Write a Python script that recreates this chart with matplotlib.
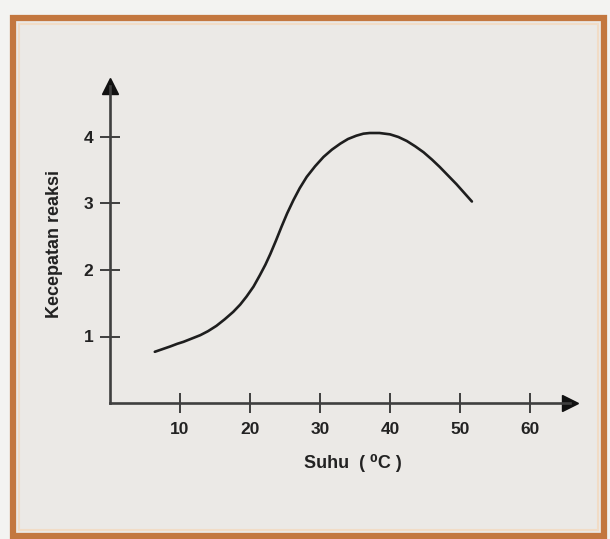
import matplotlib
matplotlib.use('Agg')
import matplotlib.pyplot as plt
from matplotlib.patches import Rectangle

# curve
suhu = [6.4, 7.5, 8.6, 9.6, 10.5, 11.7, 12.9, 14.0, 15.2, 16.4, 17.6, 18.6,
        19.5, 20.5, 21.4, 22.2, 22.9, 23.7, 24.5, 25.3, 26.2, 27.1, 28.1, 29.3,
        30.5, 31.7, 32.9, 34.0, 35.2, 36.2, 37.1, 38.5, 40.0, 41.2, 42.4, 43.6,
        44.8, 46.0, 47.1, 48.3, 49.5, 50.6, 51.7]
kecepatan = [0.77, 0.81, 0.85, 0.89, 0.92, 0.97, 1.02, 1.08, 1.16, 1.26, 1.37, 1.48,
             1.60, 1.75, 1.92, 2.08, 2.24, 2.44, 2.65, 2.85, 3.05, 3.23, 3.40, 3.56,
             3.70, 3.81, 3.90, 3.97, 4.02, 4.05, 4.06, 4.06, 4.04, 4.00, 3.94, 3.86,
             3.77, 3.66, 3.55, 3.42, 3.29, 3.16, 3.03]
xticks = [10, 20, 30, 40, 50, 60]
yticks = [1, 2, 3, 4]

W, H = 610, 539
fig = plt.figure(figsize=(W / 100, H / 100), dpi=100)
fig.patch.set_facecolor('#f3f3f1')

# orange frame, kept behind the axes
fig.patches.append(Rectangle((13 / W, 3 / H), 591 / W, 518 / H, transform=fig.transFigure,
                             facecolor='#ebe9e6', edgecolor='#c3773f', linewidth=4.5, zorder=-2))
fig.patches.append(Rectangle((19 / W, 9 / H), 579 / W, 506 / H, transform=fig.transFigure,
                             facecolor='none', edgecolor='#f1dcc6', linewidth=1.5, zorder=-1))

# axes: x=0 at px 110, y=0 at px 403
left, right, top, bottom = 110, 570, 86, 403
ax = fig.add_axes([left / W, (H - bottom) / H, (right - left) / W, (bottom - top) / H])
ax.set_facecolor('none')
ax.set_xlim(0, (right - left) / 7.0)
ax.set_ylim(0, (bottom - top) / 66.5)

ax.plot(suhu, kecepatan, color='#1e1e1e', linewidth=1.9,
        solid_capstyle='round', solid_joinstyle='round')

for s in ['top', 'right']:
    ax.spines[s].set_visible(False)
for s in ['left', 'bottom']:
    ax.spines[s].set_color('#3f3f3f')
    ax.spines[s].set_linewidth(1.9)

ax.plot(1, 0, '>', color='#111111', markersize=11, transform=ax.get_yaxis_transform(), clip_on=False)
ax.plot(0, 1, '^', color='#111111', markersize=11, transform=ax.get_xaxis_transform(), clip_on=False)

ax.set_xticks(xticks)
ax.set_yticks(yticks)
ax.tick_params(direction='inout', length=14, width=1.4, color='#3f3f3f',
               labelsize=12.5, labelcolor='#222222')
ax.tick_params(axis='x', pad=7)
ax.tick_params(axis='y', pad=5)
for lab in ax.get_xticklabels() + ax.get_yticklabels():
    lab.set_fontfamily(['Liberation Sans', 'DejaVu Sans'])
    lab.set_fontweight('bold')

ax.text(-55 / 460, 0.5, 'Kecepatan reaksi', rotation=90, transform=ax.transAxes,
        ha='center', va='center', fontsize=13, fontweight='bold', color='#222222',
        family=['Liberation Sans', 'DejaVu Sans'])
ax.text((353 - left) / 460, -(463 - bottom) / 317, 'Suhu  ( \u2070C )', transform=ax.transAxes,
        ha='center', va='center', fontsize=13, fontweight='bold', color='#222222',
        family=['Liberation Sans', 'DejaVu Sans'])

fig.savefig('out.png', dpi=100, facecolor=fig.get_facecolor())
